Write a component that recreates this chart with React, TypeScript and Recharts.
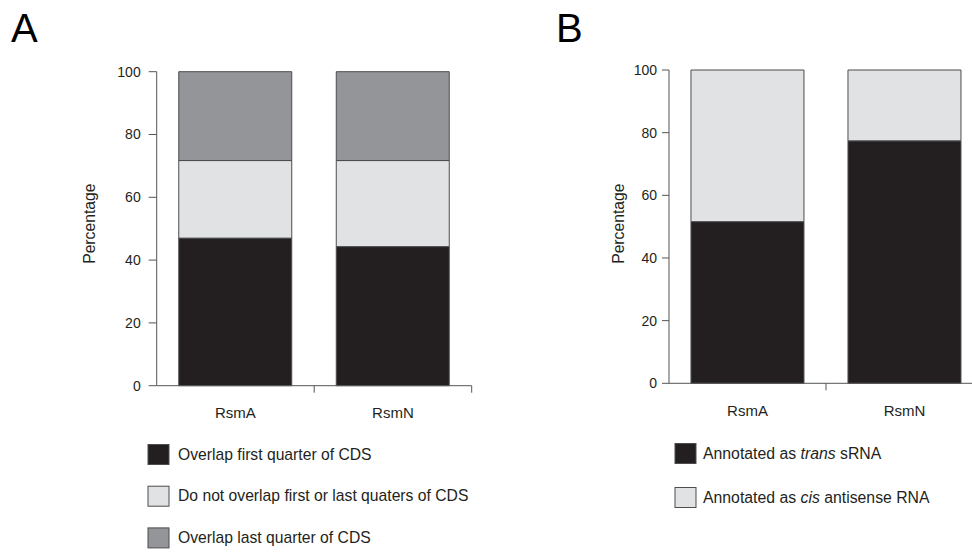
import { Bar, BarChart, XAxis, YAxis } from "recharts";

// panel A
const categoriesA = ["RsmA", "RsmN"];
const firstQuarter = [47, 44.3];
const middleCds = [24.7, 27.4];
const lastQuarter = [28.3, 28.3];

// panel B
const categoriesB = ["RsmA", "RsmN"];
const transSrna = [51.6, 77.4];
const cisAntisense = [48.4, 22.6];

const yTicks = [0, 20, 40, 60, 80, 100];

const BLACK = "#231f20";
const LIGHT = "#e1e2e4";
const DARK = "#939598";
const EDGE = "#4d4d4f";
const AXIS = "#555557";
const FONT = "'Liberation Sans', Arial, Helvetica, sans-serif";

const dataA = categoriesA.map((name, i) => ({
  name,
  first: firstQuarter[i],
  middle: middleCds[i],
  last: lastQuarter[i],
}));

const dataB = categoriesB.map((name, i) => ({
  name,
  trans: transSrna[i],
  cis: cisAntisense[i],
}));

function makeTick(band: number) {
  return function CatTick(props: any) {
    const { x, y, payload } = props;
    return (
      <g>
        <line x1={x + band / 2} x2={x + band / 2} y1={y} y2={y + 7} stroke={AXIS} />
        <text x={x} y={y + 32.5} textAnchor="middle" fontSize={15} fill={BLACK} fontFamily={FONT}>
          {payload.value}
        </text>
      </g>
    );
  };
}

const TickA = makeTick(157.5);
const TickB = makeTick(157);

const legendA = [
  { color: BLACK, text: "Overlap first quarter of CDS" },
  { color: LIGHT, text: "Do not overlap first or last quaters of CDS" },
  { color: DARK, text: "Overlap last quarter of CDS" },
];

export default function App() {
  return (
    <div
      style={{
        position: "absolute",
        left: 0,
        top: 0,
        width: 972,
        height: 553,
        overflow: "hidden",
        background: "#fff",
        fontFamily: FONT,
      }}
    >
      <div style={{ position: "absolute", left: 0, top: 0 }}>
        <BarChart
          width={500}
          height={553}
          data={dataA}
          margin={{ top: 71.7, right: 28.3, bottom: 127.3, left: 0 }}
          barCategoryGap="14%"
        >
          <XAxis
            dataKey="name"
            height={40}
            stroke={AXIS}
            tickLine={false}
            tickSize={0}
            tickMargin={0}
            tick={<TickA />}
            interval={0}
          />
          <YAxis
            width={156.7}
            domain={[0, 100]}
            ticks={yTicks}
            stroke={AXIS}
            tickSize={8}
            tickMargin={8}
            tick={{ fill: BLACK, fontSize: 14, fontFamily: FONT }}
          />
          <Bar dataKey="first" stackId="a" fill={BLACK} stroke={EDGE} isAnimationActive={false} />
          <Bar dataKey="middle" stackId="a" fill={LIGHT} stroke={EDGE} isAnimationActive={false} />
          <Bar dataKey="last" stackId="a" fill={DARK} stroke={EDGE} isAnimationActive={false} />
        </BarChart>
      </div>
      <div style={{ position: "absolute", left: 500, top: 0 }}>
        <BarChart
          width={500}
          height={553}
          data={dataB}
          margin={{ top: 70, right: 17, bottom: 129.7, left: 0 }}
          barCategoryGap="14%"
        >
          <XAxis
            dataKey="name"
            height={40}
            stroke={AXIS}
            tickLine={false}
            tickSize={0}
            tickMargin={0}
            tick={<TickB />}
            interval={0}
          />
          <YAxis
            width={169}
            domain={[0, 100]}
            ticks={yTicks}
            stroke={AXIS}
            tickSize={7}
            tickMargin={5}
            tick={{ fill: BLACK, fontSize: 14, fontFamily: FONT }}
          />
          <Bar dataKey="trans" stackId="b" fill={BLACK} stroke={EDGE} isAnimationActive={false} />
          <Bar dataKey="cis" stackId="b" fill={LIGHT} stroke={EDGE} isAnimationActive={false} />
        </BarChart>
      </div>
      <svg
        width={972}
        height={553}
        style={{ position: "absolute", left: 0, top: 0, pointerEvents: "none" }}
        fontFamily={FONT}
      >
        <text x={11} y={42} fontSize={40} fill="#000">A</text>
        <text x={556} y={42} fontSize={40} fill="#000">B</text>
        <text transform="translate(89,223.7) rotate(-90)" textAnchor="middle" dominantBaseline="central" fontSize={15.7} fill={BLACK}>
          Percentage
        </text>
        <text transform="translate(618,223.7) rotate(-90)" textAnchor="middle" dominantBaseline="central" fontSize={15.7} fill={BLACK}>
          Percentage
        </text>
        {legendA.map((item, i) => (
          <g key={item.text}>
            <rect x={148} y={444.5 + i * 41.7} width={21} height={20} fill={item.color} stroke={EDGE} />
            <text x={178} y={459.5 + i * 41.7} fontSize={15.7} fill={BLACK}>{item.text}</text>
          </g>
        ))}
        <rect x={675} y={443.5} width={21} height={20} fill={BLACK} stroke={EDGE} />
        <text x={703} y={458.5} fontSize={15.8} fill={BLACK}>
          Annotated as <tspan fontStyle="italic">trans</tspan> sRNA
        </text>
        <rect x={675} y={487.5} width={21} height={20} fill={LIGHT} stroke={EDGE} />
        <text x={703} y={502.5} fontSize={15.8} fill={BLACK}>
          Annotated as <tspan fontStyle="italic">cis</tspan> antisense RNA
        </text>
      </svg>
    </div>
  );
}
